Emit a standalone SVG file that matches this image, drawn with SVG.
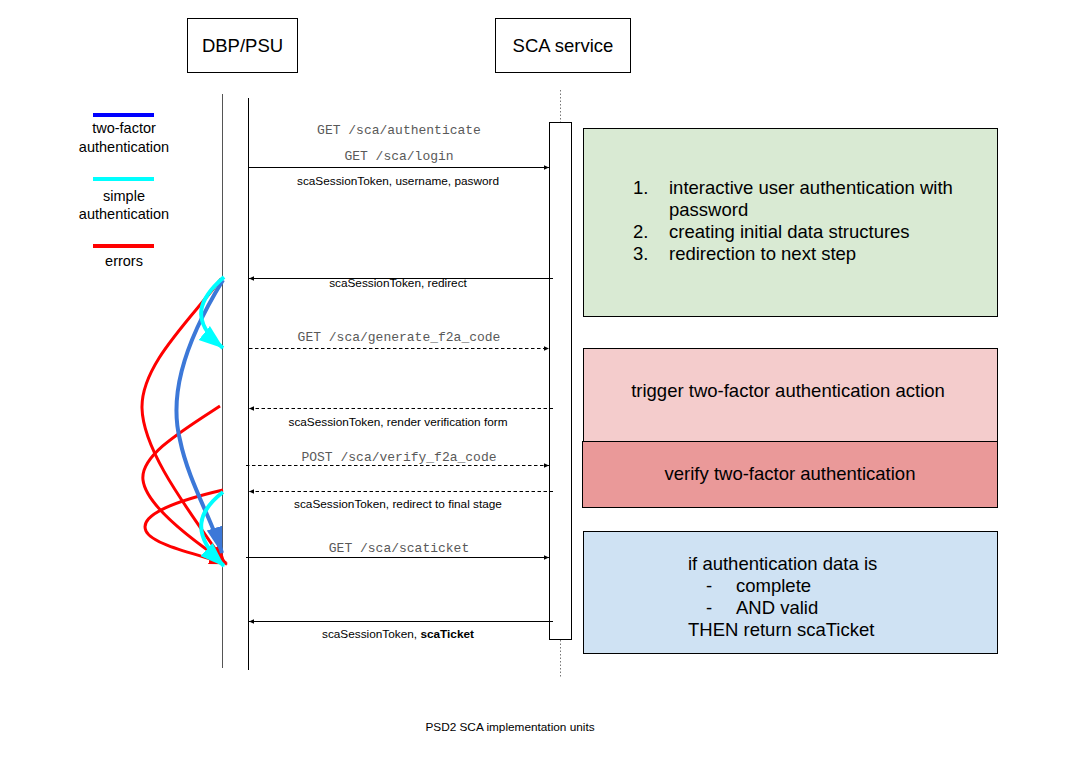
<svg xmlns="http://www.w3.org/2000/svg" width="1089" height="776" viewBox="0 0 1089 776">
<style>
.box{fill:#ffffff;stroke:#000000;stroke-width:1}
.title{font-family:"Liberation Sans",Arial,sans-serif;font-size:18.5px;fill:#000;text-anchor:middle}
.legend{font-family:"Liberation Sans",Arial,sans-serif;font-size:14.5px;fill:#000;text-anchor:middle}
.mono{font-family:"Liberation Mono","Courier New",monospace;font-size:13px;fill:#595959;text-anchor:middle}
.lbl{font-family:"Liberation Sans",Arial,sans-serif;font-size:11.8px;fill:#000;text-anchor:middle}
.big{font-family:"Liberation Sans",Arial,sans-serif;font-size:18.5px;fill:#000}
.msg{stroke:#000;stroke-width:1;fill:none}
.dash{stroke-dasharray:3.5,2.5}
.red{stroke:#ff0000;stroke-width:3;fill:none}
.blue{stroke:#3c78d8;stroke-width:4;fill:none}
.cyan{stroke:#00ffff;stroke-width:4;fill:none}
</style>
<defs>
<marker id="ah" markerUnits="userSpaceOnUse" markerWidth="6" markerHeight="6" viewBox="0 0 6 6" refX="5" refY="3" orient="auto">
<path d="M0,0.8 L5,3 L0,5.2 z" fill="#000"/>
</marker>
<marker id="ahBlue" markerUnits="userSpaceOnUse" markerWidth="30" markerHeight="20" viewBox="0 0 30 20" refX="26" refY="10" orient="auto">
<path d="M0,2 L27,10 L0,18 z" fill="#3c78d8"/>
</marker>
<marker id="ahCyan" markerUnits="userSpaceOnUse" markerWidth="28" markerHeight="22" viewBox="0 0 28 22" refX="24" refY="11" orient="auto">
<path d="M0,2 L25,11 L0,20 z" fill="#00ffff"/>
</marker>
<marker id="ahRed" markerUnits="userSpaceOnUse" markerWidth="20" markerHeight="14" viewBox="0 0 20 14" refX="18" refY="7" orient="auto">
<path d="M0,1 L19,7 L0,13 z" fill="#ff0000"/>
</marker>
</defs>
<rect width="1089" height="776" fill="#ffffff"/>

<g id="participant-dbp">
<rect class="box" x="187.5" y="18.5" width="110" height="54"/>
<text class="title" x="242.5" y="52">DBP/PSU</text>
</g>
<g id="participant-sca">
<rect class="box" x="495.5" y="18.5" width="135" height="54"/>
<text class="title" x="563" y="52">SCA service</text>
</g>

<g id="lifelines">
<line x1="222.5" y1="94" x2="222.5" y2="668" stroke="#555" stroke-width="1"/>
<line x1="248.5" y1="98" x2="248.5" y2="670" stroke="#000" stroke-width="1"/>
<line x1="560.5" y1="90" x2="560.5" y2="122" stroke="#777" stroke-width="1" stroke-dasharray="1.5,2"/>
<line x1="560.5" y1="640" x2="560.5" y2="678" stroke="#777" stroke-width="1" stroke-dasharray="1.5,2"/>
</g>
<g id="activation">
<rect class="box" x="549.5" y="122.5" width="22" height="517"/>
</g>

<g id="legend">
<line x1="93" y1="115" x2="154" y2="115" stroke="#0000ff" stroke-width="4"/>
<text class="legend" x="124" y="133">two-factor</text>
<text class="legend" x="124" y="152">authentication</text>
<line x1="93" y1="179" x2="154" y2="179" stroke="#00ffff" stroke-width="4"/>
<text class="legend" x="124" y="201">simple</text>
<text class="legend" x="124" y="219">authentication</text>
<line x1="93" y1="246" x2="154" y2="246" stroke="#ff0000" stroke-width="4"/>
<text class="legend" x="124" y="266">errors</text>
</g>

<g id="connectors">
<line class="msg" x1="249" y1="167.5" x2="549" y2="167.5" marker-end="url(#ah)"/>
<line class="msg" x1="553" y1="278.5" x2="249" y2="278.5" marker-end="url(#ah)"/>
<line class="msg dash" x1="249" y1="348.5" x2="549" y2="348.5" marker-end="url(#ah)"/>
<line class="msg dash" x1="553" y1="408.5" x2="249" y2="408.5" marker-end="url(#ah)"/>
<line class="msg dash" x1="246" y1="465.5" x2="549" y2="465.5" marker-end="url(#ah)"/>
<line class="msg dash" x1="553" y1="491.5" x2="249" y2="491.5" marker-end="url(#ah)"/>
<line class="msg" x1="246" y1="557.5" x2="549" y2="557.5" marker-end="url(#ah)"/>
<line class="msg" x1="553" y1="621.5" x2="249" y2="621.5" marker-end="url(#ah)"/>

<path class="red" d="M221,279 C190,320 141,365 142,408 C143,452 190,512 225,563" marker-end="url(#ahRed)"/>
<path class="red" d="M220,406 C180,432 140,456 143,480 C146,506 192,540 226,563" marker-end="url(#ahRed)"/>
<path class="red" d="M223,490 C180,500 138,514 146,531 C152,545 200,555 227,564" marker-end="url(#ahRed)"/>
<path class="blue" d="M223,280 C180,350 170,400 180,440 C188,480 212,520 222,553" marker-end="url(#ahBlue)"/>
<path class="cyan" d="M224,277 C200,298 188,320 223,348" marker-end="url(#ahCyan)"/>
<path class="cyan" d="M223,492 C200,510 188,532 224,566" marker-end="url(#ahCyan)"/>
</g>

<g id="message-labels">
<text class="mono" x="399" y="134">GET /sca/authenticate</text>
<text class="mono" x="399" y="160">GET /sca/login</text>
<text class="lbl" x="398" y="185">scaSessionToken, username, pasword</text>
<text class="lbl" x="398" y="287">scaSessionToken, redirect</text>
<text class="mono" x="399" y="341">GET /sca/generate_f2a_code</text>
<text class="lbl" x="398" y="426">scaSessionToken, render verification form</text>
<text class="mono" x="399" y="461">POST /sca/verify_f2a_code</text>
<text class="lbl" x="398" y="508">scaSessionToken, redirect to final stage</text>
<text class="mono" x="399" y="552">GET /sca/scaticket</text>
<text class="lbl" x="398" y="638">scaSessionToken, <tspan font-weight="bold">scaTicket</tspan></text>
</g>

<g id="unit-login">
<rect x="583.5" y="128.5" width="414" height="188" fill="#d9ead3" stroke="#000" stroke-width="1"/>
<text class="big" x="633" y="194">1.</text>
<text class="big" x="669" y="194">interactive user authentication with</text>
<text class="big" x="669" y="216">password</text>
<text class="big" x="633" y="238">2.</text>
<text class="big" x="669" y="238">creating initial data structures</text>
<text class="big" x="633" y="260">3.</text>
<text class="big" x="669" y="260">redirection to next step</text>
</g>
<g id="unit-trigger">
<rect x="583.5" y="348.5" width="414" height="93" fill="#f4cccc" stroke="#000" stroke-width="1"/>
<text class="big" x="788" y="397" text-anchor="middle">trigger two-factor authentication action</text>
</g>
<g id="unit-verify">
<rect x="582.5" y="441.5" width="415" height="66" fill="#ea9999" stroke="#000" stroke-width="1"/>
<text class="big" x="790" y="480" text-anchor="middle">verify two-factor authentication</text>
</g>
<g id="unit-ticket">
<rect x="583.5" y="531.5" width="414" height="122" fill="#cfe2f3" stroke="#000" stroke-width="1"/>
<text class="big" x="688" y="570">if authentication data is</text>
<text class="big" x="706" y="592">-</text>
<text class="big" x="736" y="592">complete</text>
<text class="big" x="706" y="614">-</text>
<text class="big" x="736" y="614">AND valid</text>
<text class="big" x="688" y="636">THEN return scaTicket</text>
</g>

<g id="caption">
<text class="lbl" x="510" y="731">PSD2 SCA implementation units</text>
</g>
</svg>
